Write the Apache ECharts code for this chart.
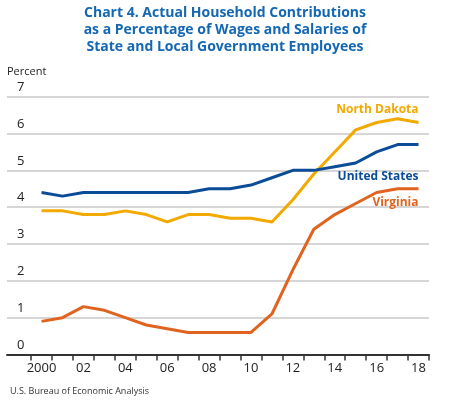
<!DOCTYPE html>
<html><head><meta charset="utf-8">
<script src="https://cdn.jsdelivr.net/npm/echarts@6/dist/echarts.min.js"></script>
<style>html,body{margin:0;padding:0;background:#fff}#c{width:450px;height:400px}</style>
</head><body><div id="c"></div>
<script>
const years = [2000,2001,2002,2003,2004,2005,2006,2007,2008,2009,2010,2011,2012,2013,2014,2015,2016,2017,2018];
const unitedStates = [4.4,4.3,4.4,4.4,4.4,4.4,4.4,4.4,4.5,4.5,4.6,4.8,5.0,5.0,5.1,5.2,5.5,5.7,5.7];
const northDakota = [3.9,3.9,3.8,3.8,3.9,3.8,3.6,3.8,3.8,3.7,3.7,3.6,4.2,4.9,5.5,6.1,6.3,6.4,6.3];
const virginia = [0.9,1.0,1.3,1.2,1.0,0.8,0.7,0.6,0.6,0.6,0.6,1.1,2.3,3.4,3.8,4.1,4.4,4.5,4.5];
const labelYears = [2000,2002,2004,2006,2008,2010,2012,2014,2016,2018];
const yTicks = [0,1,2,3,4,5,6,7];

const FONT = '"Open Sans", "Noto Sans", sans-serif';
const tickPos = [years[0]-0.5].concat(years.map(y => y + 0.5));
const pairs = arr => years.map((y,i) => [y, arr[i]]);

const chart = echarts.init(document.getElementById('c'), null, {renderer:'canvas'});
function mkSeries(name, data, color, dy){
  return {
    name, type:'line', data: pairs(data), symbol:'none',
    lineStyle:{color, width:3}, itemStyle:{color},
    endLabel:{show:true, formatter: name, align:'right', distance:0, offset:[0,dy],
      color, fontFamily:FONT, fontWeight:'bold', fontSize:12},
    animation:false
  };
}
chart.setOption({
  animation:false,
  title:{
    text:'Chart 4. Actual Household Contributions\nas a Percentage of Wages and Salaries of\nState and Local Government Employees',
    left:'center', top:0,
    textStyle:{color:'#1467b3', fontFamily:FONT, fontWeight:'bold', fontSize:14, lineHeight:16.7}
  },
  graphic:[
    {type:'text', left:7, top:66, style:{text:'Percent', fill:'#222', font:'11px '+FONT}},
    {type:'text', left:10, top:387, style:{text:'U.S. Bureau of Economic Analysis', fill:'#333', font:'9px '+FONT}}
  ],
  grid:{left:7, right:21, top:96.7, bottom:45.5, containLabel:false},
  xAxis:{
    type:'value', min:1998.35, max:2018.5,
    splitLine:{show:false},
    axisLine:{show:true, lineStyle:{color:'#333', width:2}},
    axisTick:{show:true, customValues:tickPos, length:6, lineStyle:{color:'#333', width:1.5}},
    axisLabel:{customValues:labelYears, margin:7, fontSize:13, color:'#222', fontFamily:FONT,
      formatter: v => v === years[0] ? String(v) : String(v % 100).padStart(2,'0')}
  },
  yAxis:{
    type:'value', min:yTicks[0], max:yTicks[yTicks.length-1], interval:1,
    axisLine:{show:false}, axisTick:{show:false},
    splitLine:{lineStyle:{color:'#c8c8c8', width:1.5}},
    axisLabel:{inside:true, margin:10, verticalAlign:'bottom', padding:[0,0,3,0],
      fontSize:13, color:'#222', fontFamily:FONT}
  },
  series:[
    mkSeries('North Dakota', northDakota, '#f2a900', -13),
    mkSeries('United States', unitedStates, '#0a4c96', 32),
    mkSeries('Virginia', virginia, '#e0631f', 14)
  ]
});
</script></body></html>
